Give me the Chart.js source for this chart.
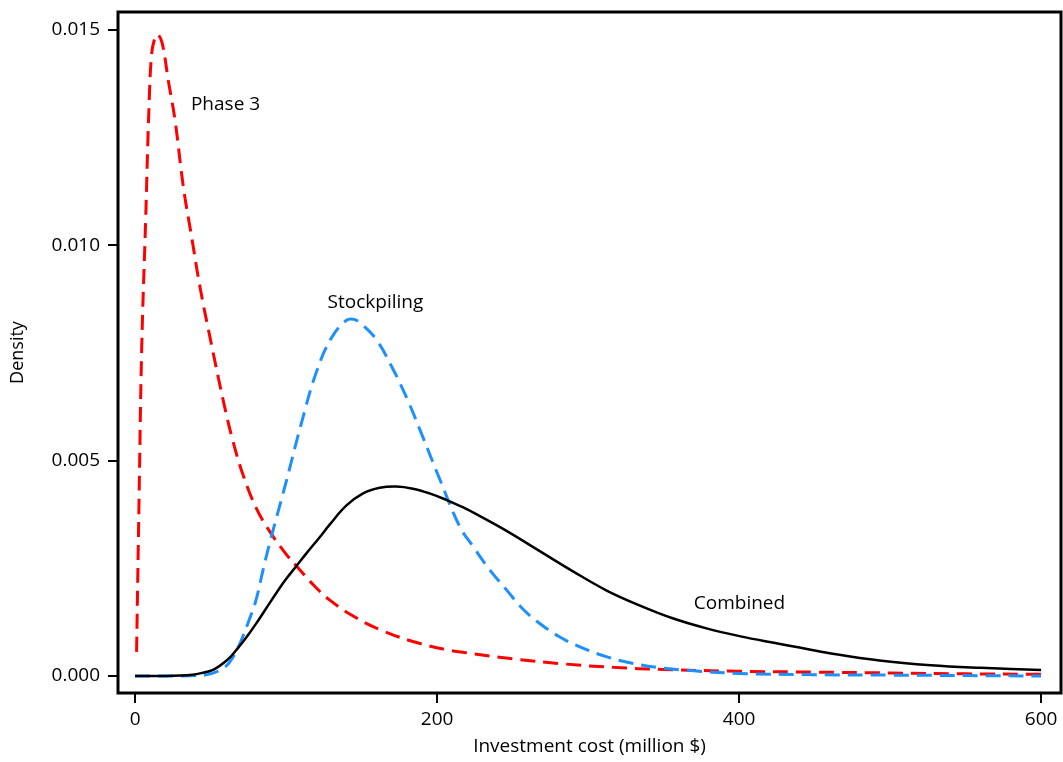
<!DOCTYPE html>
<html>
<head>
<meta charset="utf-8">
<title>Investment cost density</title>
<script src="https://cdn.jsdelivr.net/npm/chart.js@4.4.0/dist/chart.umd.min.js"></script>
<style>
  html, body { margin: 0; padding: 0; background: #fff; }
  #wrap { width: 1063px; height: 762px; }
</style>
</head>
<body>
<div id="wrap"><canvas id="densityChart" width="1063" height="762"></canvas></div>
<script>
// Phase 3 (red dashed)
const phase3Cost = [1, 2.6, 4.4, 7, 9.3, 11, 13, 15, 18, 22, 26.5, 32, 37.5, 43, 50, 58.5, 65, 72, 80.5, 89.5, 100, 107, 118, 129, 145, 162, 184, 206, 217, 250, 284, 317, 350, 400, 450, 500, 550, 600];
const phase3Density = [0.00056, 0.0040, 0.00761, 0.01058, 0.01329, 0.01445, 0.0148, 0.0149, 0.01469, 0.01383, 0.0129, 0.01135, 0.01019, 0.00903, 0.0078, 0.00638, 0.00543, 0.00462, 0.00388, 0.00334, 0.00283, 0.00255, 0.00212, 0.00176, 0.00138, 0.00108, 0.0008, 0.00061, 0.00055, 0.0004, 0.00028, 0.0002, 0.00015, 0.00011, 0.00009, 0.00007, 0.00005, 0.00004];

// Stockpiling (blue dashed)
const stockCost = [0, 20, 40, 50, 60, 65, 70, 75, 80, 85, 90, 95, 100, 110, 120, 130, 140, 145, 150, 160, 170, 180, 190, 202, 215, 224, 235, 246, 257, 268, 281, 295, 312, 330, 350, 370, 400, 450, 500, 600];
const stockDensity = [0, 0, 0.00001, 0.00005, 0.00022, 0.00045, 0.0008, 0.00125, 0.00175, 0.0025, 0.0032, 0.00385, 0.0045, 0.00585, 0.00705, 0.00785, 0.00826, 0.00828, 0.00817, 0.0078, 0.00718, 0.00645, 0.0056, 0.00455, 0.00347, 0.003, 0.00246, 0.002, 0.00155, 0.00122, 0.00091, 0.00067, 0.00045, 0.00029, 0.00018, 0.00012, 0.00006, 0.00003, 0.00002, 0];

// Combined (black solid)
const combinedCost = [0, 10, 20, 30, 38, 43, 52, 61, 67, 74, 81, 87, 94, 100, 107, 114, 122, 129, 140, 151, 162, 173, 184, 195, 206, 217, 228, 246, 268, 290, 312, 334, 356, 379, 401, 423, 440, 460, 493, 527, 560, 600];
const combinedDensity = [0, 0, 0, 0.00001, 0.00003, 0.00006, 0.00015, 0.00037, 0.0006, 0.00091, 0.00126, 0.00158, 0.00195, 0.00225, 0.00256, 0.00287, 0.00321, 0.00352, 0.00396, 0.00424, 0.00437, 0.0044, 0.00435, 0.00424, 0.00409, 0.00392, 0.00372, 0.00337, 0.0029, 0.00243, 0.00199, 0.00164, 0.00134, 0.0011, 0.00092, 0.00077, 0.00066, 0.00053, 0.00036, 0.00025, 0.00019, 0.00014];

// Axis ticks
const costTicks = [0, 200, 400, 600];
const densityTicks = [0, 0.005, 0.010, 0.015];

// Curve labels (text + anchor in data units)
const curveLabels = [
  { text: 'Phase 3', x: 37, y: 0.01327 },
  { text: 'Stockpiling', x: 127.5, y: 0.00868 },
  { text: 'Combined', x: 370, y: 0.00167 }
];

const FONT = '"Open Sans", "DejaVu Sans", sans-serif';

function toPoints(xs, ys) {
  return xs.map((x, i) => ({ x: x, y: ys[i] }));
}

// frame box + text labels on the curves
const framePlugin = {
  id: 'frame',
  afterDraw(chart) {
    const { ctx, chartArea: a, scales } = chart;
    ctx.save();
    ctx.strokeStyle = '#000';
    ctx.lineWidth = 3;
    ctx.strokeRect(a.left, a.top, a.right - a.left, a.bottom - a.top);

    ctx.fillStyle = '#000';
    ctx.font = '19px ' + FONT;
    ctx.textAlign = 'left';
    ctx.textBaseline = 'middle';
    curveLabels.forEach(l => {
      ctx.fillText(l.text, scales.x.getPixelForValue(l.x), scales.y.getPixelForValue(l.y));
    });
    ctx.restore();
  }
};

document.addEventListener('DOMContentLoaded', () => {
  const ctx = document.getElementById('densityChart');
  if (!ctx) {
    console.error('Canvas element for chart not found.');
    return;
  }

  new Chart(ctx.getContext('2d'), {
    type: 'line',
    data: {
      datasets: [
        {
          label: 'Combined',
          data: toPoints(combinedCost, combinedDensity),
          borderColor: '#000000',
          borderWidth: 2.5,
          tension: 0.4,
          pointRadius: 0,
          fill: false
        },
        {
          label: 'Stockpiling',
          data: toPoints(stockCost, stockDensity),
          borderColor: '#1E8FFF',
          borderWidth: 3,
          borderDash: [15, 8],
          tension: 0.4,
          pointRadius: 0,
          fill: false
        },
        {
          label: 'Phase 3',
          data: toPoints(phase3Cost, phase3Density),
          borderColor: '#FF0000',
          borderWidth: 3,
          borderDash: [15, 8],
          tension: 0.4,
          pointRadius: 0,
          fill: false
        }
      ]
    },
    options: {
      responsive: false,
      animation: false,
      devicePixelRatio: 1,
      layout: { padding: { top: 12, right: 2, left: 0, bottom: 0 } },
      plugins: {
        legend: { display: false },
        tooltip: { enabled: false }
      },
      scales: {
        x: {
          type: 'linear',
          min: -11.3,
          max: 613.2,
          afterBuildTicks: scale => { scale.ticks = costTicks.map(v => ({ value: v })); },
          afterFit: scale => {
            scale.height = 69;
            scale.paddingLeft = 0;
            scale.paddingRight = 0;
          },
          border: { display: false },
          grid: { drawOnChartArea: false, drawTicks: true, tickLength: 10, color: '#000', lineWidth: 2 },
          ticks: { color: '#000', font: { family: FONT, size: 19 }, padding: 5, maxRotation: 0 },
          title: {
            display: true,
            text: 'Investment cost (million $)',
            color: '#000',
            font: { family: FONT, size: 19 },
            padding: { top: 0, bottom: 4 }
          }
        },
        y: {
          type: 'linear',
          min: -0.000395,
          max: 0.015418,
          afterBuildTicks: scale => { scale.ticks = densityTicks.map(v => ({ value: v })); },
          afterFit: scale => {
            scale.width = 118;
            scale.paddingTop = 0;
            scale.paddingBottom = 0;
          },
          border: { display: false },
          grid: { drawOnChartArea: false, drawTicks: true, tickLength: 10, color: '#000', lineWidth: 2 },
          ticks: {
            color: '#000',
            font: { family: FONT, size: 19 },
            padding: 8,
            callback: v => v.toFixed(3)
          },
          title: {
            display: true,
            text: 'Density',
            color: '#000',
            font: { family: FONT, size: 18 },
            padding: { top: 7, bottom: 0 }
          }
        }
      }
    },
    plugins: [framePlugin]
  });
});
</script>
</body>
</html>
